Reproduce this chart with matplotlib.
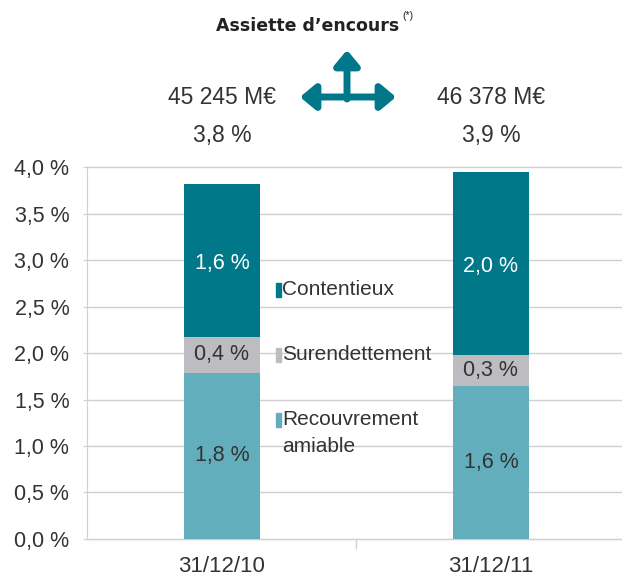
import matplotlib.pyplot as plt
import numpy as np

dates = ["31/12/10", "31/12/11"]
recouvrement = [1.79, 1.64]
surendettement = [0.38, 0.34]
contentieux = [1.65, 1.97]
lbl_recouvrement = ["1,8 %", "1,6 %"]
lbl_surendettement = ["0,4 %", "0,3 %"]
lbl_contentieux = ["1,6 %", "2,0 %"]
encours = ["45 245 M€", "46 378 M€"]
totaux = ["3,8 %", "3,9 %"]
yticks = [0.0, 0.5, 1.0, 1.5, 2.0, 2.5, 3.0, 3.5, 4.0]

c_dark = "#00788a"
c_grey = "#bdbdc1"
c_light = "#62aebc"
c_text = "#333333"
c_axis = "#d0d0d0"

plt.rcParams["font.family"] = ["Liberation Sans", "DejaVu Sans"]

fig = plt.figure(figsize=(6.22, 5.78), dpi=100)
ax = fig.add_axes([0.1405, 0.0675, 0.865, 0.6435])

x = np.arange(len(dates))
w = 0.283
bottom2 = np.array(recouvrement) + np.array(surendettement)
ax.bar(x, recouvrement, w, color=c_light, zorder=3)
ax.bar(x, surendettement, w, bottom=recouvrement, color=c_grey, zorder=3)
ax.bar(x, contentieux, w, bottom=bottom2, color=c_dark, zorder=3)

for i in x:
    ax.text(i, recouvrement[i] / 2, lbl_recouvrement[i], ha="center", va="center",
            fontsize=15.5, color=c_text, zorder=4)
    ax.text(i, recouvrement[i] + surendettement[i] / 2, lbl_surendettement[i], ha="center",
            va="center", fontsize=15.5, color=c_text, zorder=4)
    ax.text(i, bottom2[i] + contentieux[i] / 2 - 0.03, lbl_contentieux[i], ha="center",
            va="center", fontsize=15.5, color="white", zorder=4)

# legend labels in the middle of the plot
legend = [(2.68, "Contentieux", c_dark), (1.98, "Surendettement", c_grey),
          (1.28, "Recouvrement", c_light)]
for y, txt, col in legend:
    ax.add_patch(plt.Rectangle((0.2, y - 0.075), 0.018, 0.15, color=col, zorder=3))
    ax.text(0.225, y, txt, color=c_text, fontsize=15, va="center", ha="left")
ax.text(0.225, 0.99, "amiable", color=c_text, fontsize=15, va="center", ha="left")

ax.set_xlim(-0.5, 1.5)
ax.set_ylim(0, 4.0)
ax.set_yticks(yticks)
ax.set_yticklabels([f"{v:.1f} %".replace(".", ",") for v in yticks])
ax.set_xticks(x)
ax.set_xticklabels(dates)
ax.set_xticks([0.5], minor=True)
ax.tick_params(axis="x", which="major", length=0, pad=12, labelsize=16, labelcolor=c_text)
ax.tick_params(axis="x", which="minor", length=7, color=c_axis, width=1)
ax.tick_params(axis="y", length=3, color=c_axis, labelsize=15.5, labelcolor=c_text, pad=10)
ax.grid(axis="y", color=c_axis, lw=1, zorder=0)
for g in ax.get_ygridlines():
    g.set_clip_on(False)
for s in ["top", "right"]:
    ax.spines[s].set_visible(False)
ax.spines["left"].set_color(c_axis)
ax.spines["bottom"].set_color(c_axis)

# header
title = fig.text(0.495, 0.955, "Assiette d’encours", ha="center", va="center",
                 fontsize=12.5, fontweight="bold", family="DejaVu Sans", color="#222222")
fig.canvas.draw()
bb = title.get_window_extent().transformed(fig.transFigure.inverted())
fig.text(bb.x1 + 0.004, 0.972, "(*)", ha="left", va="center", fontsize=7.5, color="#222222")
for i in x:
    xf = 0.1405 + 0.865 * (i + 0.5) / 2
    fig.text(xf, 0.831, encours[i], ha="center", va="center", fontsize=16.5, color=c_text)
    fig.text(xf, 0.766, totaux[i], ha="center", va="center", fontsize=16.5, color=c_text)

head = "head_length=0.9,head_width=0.75"
ax.annotate("", xy=(300, 481), xytext=(396, 481), xycoords="figure pixels",
            textcoords="figure pixels",
            arrowprops=dict(arrowstyle="<|-|>," + head, lw=5, color=c_dark,
                            shrinkA=0, shrinkB=0))
ax.annotate("", xy=(347, 528), xytext=(347, 479), xycoords="figure pixels",
            textcoords="figure pixels",
            arrowprops=dict(arrowstyle="-|>," + head, lw=5, color=c_dark,
                            shrinkA=0, shrinkB=0))

fig.savefig("out.png", dpi=100)
